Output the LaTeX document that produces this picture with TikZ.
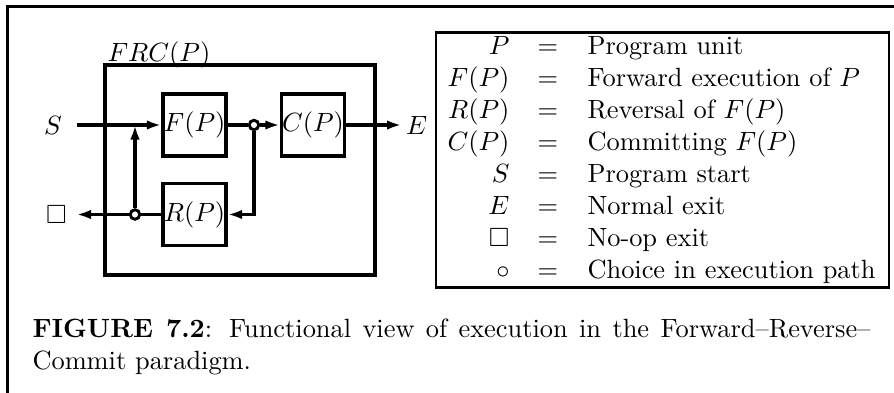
\documentclass[tikz,border=0pt]{standalone}
\usepackage{amssymb}
\usetikzlibrary{arrows.meta}
\begin{document}
\begin{tikzpicture}[x=0.379pt, y=-0.379pt,
  wire/.style={line width=1.25pt},
  arr/.style={wire, -{Latex[length=5.5pt,width=3.6pt]}},
  blk/.style={draw, line width=1.25pt, inner sep=0pt,
              minimum width=23.9pt, minimum height=23.5pt},
  choice/.style={circle, draw, fill=white, line width=1.1pt,
                 inner sep=0pt, minimum size=3.6pt},
  lbl/.style={inner ysep=0pt}]
  \useasboundingbox (0,0) rectangle (894,393);

  % page frame
  \draw[line width=0.8pt] (7.5,393) -- (7.5,6.5) -- (894,6.5);

  % outer unit
  \node (frc) [draw, line width=1.25pt, inner sep=0pt,
               minimum width=102.3pt, minimum height=79.6pt] at (240,170) {};
  \node (frclabel) [anchor=base west, inner sep=0pt] at (107,62) {$FRC(P)$};

  % inner blocks
  \node (F) [blk] at (194.5,125) {$F(P)$};
  \node (C) [blk] at (313,125) {$C(P)$};
  \node (R) [blk] at (194.5,214.5) {$R(P)$};

  % choice points
  \node (c1) [choice] at (254,125) {};
  \node (c2) [choice] at (135,214.5) {};
  \coordinate (j1) at (135,125);

  % entry and exit labels
  \node (S) [lbl, inner xsep=5.6pt] at (53,125) {$S$};
  \node (E) [lbl, inner xsep=1.5pt] at (416.5,125) {$E$};
  \node (nop) [lbl, inner xsep=3.5pt] at (56.5,214.5) {$\square$};

  % connectors
  \draw[arr] (S) -- (F.west);
  \draw[wire] (F.east) -- (c1);
  \draw[arr] (c1) -- (C.west);
  \draw[arr] (C.east) -- (E.west);
  \draw[arr] (c1) |- (R.east);
  \draw[wire] (R.west) -- (c2);
  \draw[arr] (c2) -- (nop.east);
  \draw[arr] (c2) -- (j1);

  % legend
  \node (legend) [draw, line width=1pt, inner sep=0pt,
                  minimum width=171.7pt, minimum height=96.8pt] at (662.5,160) {};
  \foreach \sym/\txt [count=\i] in {
      {$P$}/{Program unit},
      {$F(P)$}/{Forward execution of $P$},
      {$R(P)$}/{Reversal of $F(P)$},
      {$C(P)$}/{Committing $F(P)$},
      {$S$}/{Program start},
      {$E$}/{Normal exit},
      {$\square$}/{No-op exit},
      {$\circ$}/{Choice in execution path}} {
    \node (sym\i) [anchor=base east, inner sep=0pt] at (510,{23.1+31.9*\i}) {\sym};
    \node (eq\i) [anchor=base, inner sep=0pt] at (548,{23.1+31.9*\i}) {$=$};
    \node (desc\i) [anchor=base west, inner sep=0pt] at (587,{23.1+31.9*\i}) {\txt};
  }

  % caption
  \node (caption) [anchor=north west, inner sep=0pt, text width=317.6pt,
                   align=justify] at (32,318.4)
    {\textbf{FIGURE 7.2}: Functional view of execution in the
     Forward\textendash Reverse\textendash\linebreak Commit paradigm.};
\end{tikzpicture}
\end{document}
